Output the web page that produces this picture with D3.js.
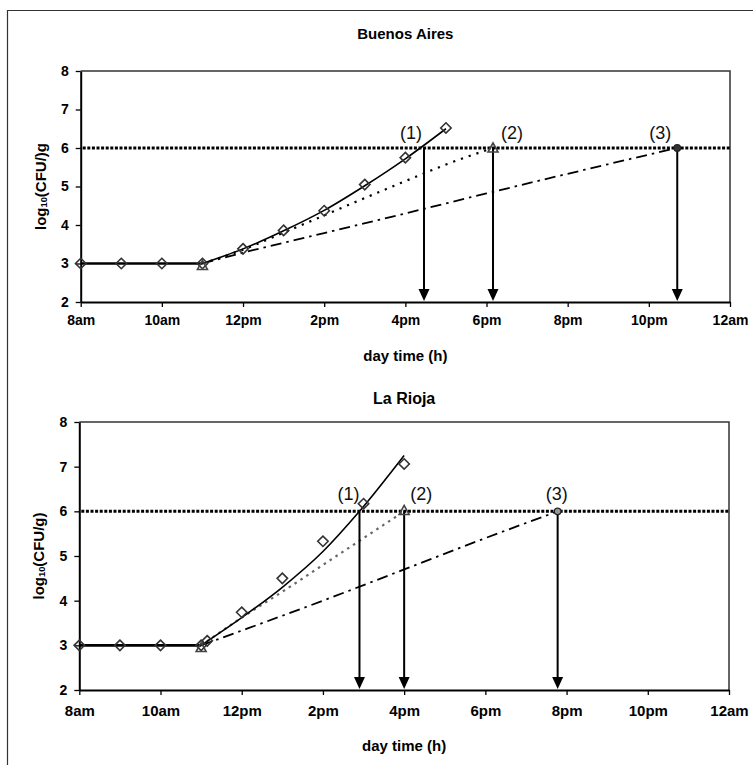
<!DOCTYPE html>
<html><head><meta charset="utf-8">
<script src="https://cdn.jsdelivr.net/npm/d3@7"></script>
<style>body{margin:0;background:#fff} svg{display:block} text{font-family:"Liberation Sans",Arial,sans-serif}</style>
</head><body><svg id="c" width="753" height="765"></svg>
<script>
// ---- shared axis data ----
const xTickHours = [8,10,12,14,16,18,20,22,24];
const xTickLabels = ["8am","10am","12pm","2pm","4pm","6pm","8pm","10pm","12am"];
const yTicks = [2,3,4,5,6,7,8];
const threshold = 6;
const xDomain = [8,24];
const yDomain = [2,8];

// ---- Buenos Aires ----
const baTitle = "Buenos Aires";
const baYLabel = ["log","10","(CFU/)g"];
const baObsHours = [8,9,10,11,12,13,14,15,16,17];
const baObsValues = [3,3,3,3,3.38,3.86,4.37,5.05,5.75,6.52];
const baLagHours = [8,11];
const baLagValues = [3,3];
const baFit1Hours = [11,12,13,14,15,16,17];
const baFit1Values = [3.0,3.38,3.85,4.38,5.02,5.72,6.5];
const baFit2Hours = [11,12,13,14,15,16,17,18.16];
const baFit2Values = [3.0,3.36,3.8,4.25,4.7,5.14,5.57,6.0];
const baFit3Hours = [11,12,14,16,18,20,22.7];
const baFit3Values = [3.0,3.28,3.79,4.3,4.82,5.33,6.0];
const baTriHours = [11,18.16];
const baTriValues = [2.95,6.0];
const baCircHours = [22.7];
const baCircValues = [6.0];
const baArrowHours = [16.46,18.16,22.7];
const arrowLabels = ["(1)","(2)","(3)"];

// ---- La Rioja ----
const lrTitle = "La Rioja";
const lrYLabel = ["log","10","(CFU/g)"];
const lrObsHours = [8,9,10,11,11.15,12,13,14,15,16];
const lrObsValues = [3,3,3,3,3.1,3.74,4.5,5.33,6.17,7.06];
const lrLagHours = [8,11];
const lrLagValues = [3,3];
const lrFit1Hours = [11,12,13,14,14.9,16];
const lrFit1Values = [3.0,3.62,4.3,5.1,6.0,7.25];
const lrFit2Hours = [11,12,13,14,15,16];
const lrFit2Values = [3.0,3.62,4.2,4.8,5.4,6.0];
const lrFit3Hours = [11,12,14,16,18,19.78];
const lrFit3Values = [3.0,3.33,4.0,4.7,5.4,6.0];
const lrTriHours = [11,16];
const lrTriValues = [2.95,6.02];
const lrCircHours = [19.78];
const lrCircValues = [6.0];
const lrArrowHours = [14.9,16.0,19.78];

const svg = d3.select("#c");
// outer frame (left + top)
svg.append("path").attr("d","M7.5,765 L7.5,10.5 L753,10.5").attr("fill","none").attr("stroke","#333").attr("stroke-width",1.2);

const zip = (a,b) => a.map((v,i)=>[v,b[i]]);

function panel(cfg, d) {
  const x = d3.scaleLinear().domain(xDomain).range([cfg.x0, cfg.x1]);
  const y = d3.scaleLinear().domain(yDomain).range([cfg.yB, cfg.yT]);
  const g = svg.append("g");
  // title
  g.append("text").attr("x",(cfg.x0+cfg.x1)/2).attr("y",cfg.titleY).attr("text-anchor","middle")
    .attr("font-size",cfg.titleSize).attr("font-weight","bold").text(d.title);
  // box top/right
  g.append("path").attr("d",`M${cfg.x0},${cfg.yT} L${cfg.x1},${cfg.yT} L${cfg.x1},${cfg.yB}`)
    .attr("fill","none").attr("stroke","#333").attr("stroke-width",1.5);
  // axes
  const xa = g.append("g").attr("transform",`translate(0,${cfg.yB})`)
    .call(d3.axisBottom(x).tickValues(xTickHours).tickFormat((v,i)=>xTickLabels[i]).tickSize(5).tickSizeOuter(0));
  const ya = g.append("g").attr("transform",`translate(${cfg.x0},0)`)
    .call(d3.axisLeft(y).tickValues(yTicks).tickFormat(d3.format("d")).tickSize(5).tickSizeOuter(0));
  [xa,ya].forEach(a=>{
    a.select(".domain").attr("stroke","#000").attr("stroke-width",2);
    a.selectAll(".tick line").attr("stroke","#000").attr("stroke-width",1.3);
    a.selectAll(".tick text").attr("font-family",'"Liberation Sans",Arial,sans-serif')
      .attr("font-weight","bold").attr("fill","#000");
  });
  xa.selectAll(".tick text").attr("font-size",cfg.xTickSize).attr("dy","0.71em").attr("y",cfg.xTickY);
  ya.selectAll(".tick text").attr("font-size",cfg.yTickSize).attr("x",-12);
  // axis titles
  g.append("text").attr("x",(cfg.x0+cfg.x1)/2).attr("y",cfg.xTitleY).attr("text-anchor","middle")
    .attr("font-size",cfg.axisTitleSize).attr("font-weight","bold").text("day time (h)");
  const yl = g.append("text").attr("transform",`translate(${cfg.yTitleX},${(cfg.yT+cfg.yB)/2}) rotate(-90)`)
    .attr("text-anchor","middle").attr("font-size",cfg.axisTitleSize).attr("font-weight","bold");
  yl.append("tspan").text(d.yLabel[0]);
  yl.append("tspan").attr("font-size",cfg.axisTitleSize*0.62).attr("dy",1).text(d.yLabel[1]);
  yl.append("tspan").attr("dy",-1).text(d.yLabel[2]);

  // threshold
  g.append("line").attr("x1",cfg.x0+2).attr("x2",cfg.x1).attr("y1",y(threshold)).attr("y2",y(threshold))
    .attr("stroke","#000").attr("stroke-width",3).attr("stroke-dasharray","3,1.6");

  const lineS = d3.line().x(p=>x(p[0])).y(p=>y(p[1]));
  const lineC = d3.line().x(p=>x(p[0])).y(p=>y(p[1])).curve(d3.curveMonotoneX);
  // fit 3 dash-dot
  g.append("path").attr("d",lineC(zip(d.f3h,d.f3v))).attr("fill","none").attr("stroke","#000")
    .attr("stroke-width",1.8).attr("stroke-dasharray","11,5,2.5,5");
  // fit 2 dotted
  g.append("path").attr("d",lineC(zip(d.f2h,d.f2v))).attr("fill","none").attr("stroke",cfg.dotColor)
    .attr("stroke-width",2.2).attr("stroke-dasharray",cfg.dotDash);
  // lag
  g.append("path").attr("d",lineS(zip(d.lagh,d.lagv))).attr("fill","none").attr("stroke","#000").attr("stroke-width",2.6);
  // fit 1 solid
  g.append("path").attr("d",lineC(zip(d.f1h,d.f1v))).attr("fill","none").attr("stroke","#000").attr("stroke-width",1.6);

  // arrows
  d.arrows.forEach((h,i)=>{
    const ax = x(h);
    g.append("line").attr("x1",ax).attr("x2",ax).attr("y1",y(threshold)).attr("y2",cfg.yB-10)
      .attr("stroke","#000").attr("stroke-width",2);
    g.append("path").attr("d",`M${ax-5.5},${cfg.yB-13} L${ax+5.5},${cfg.yB-13} L${ax},${cfg.yB-1} Z`).attr("fill","#000");
    g.append("text").attr("x",ax+cfg.labelDx[i]).attr("y",y(threshold)+cfg.labelDy).attr("text-anchor","middle")
      .attr("font-size",18).attr("fill","#111").text(arrowLabels[i]);
  });

  // markers: diamonds
  g.selectAll(null).data(zip(d.oh,d.ov)).join("path")
    .attr("d",p=>{const cx=x(p[0]),cy=y(p[1]),r=5.2;return `M${cx},${cy-r} L${cx+r},${cy} L${cx},${cy+r} L${cx-r},${cy} Z`;})
    .attr("fill","none").attr("stroke","#333").attr("stroke-width",1.6);
  // triangles
  g.selectAll(null).data(zip(d.th,d.tv)).join("path")
    .attr("d",p=>{const cx=x(p[0]),cy=y(p[1]);return `M${cx},${cy-5} L${cx+5},${cy+4} L${cx-5},${cy+4} Z`;})
    .attr("fill","none").attr("stroke","#444").attr("stroke-width",1.6);
  // circles
  g.selectAll(null).data(zip(d.ch,d.cv)).join("circle")
    .attr("cx",p=>x(p[0])).attr("cy",p=>y(p[1])).attr("r",3.3)
    .attr("fill",cfg.circFill).attr("stroke","#222").attr("stroke-width",1.2);
}

panel({x0:80.7,x1:730,yT:71,yB:302,titleY:39,titleSize:15,xTickSize:14,yTickSize:14,axisTitleSize:15,xTickY:13,xTitleY:361,yTitleX:46,
       dotColor:"#000",dotDash:"2.2,6",labelDx:[-13,19,-17],labelDy:-9,circFill:"#333"},
  {title:baTitle,yLabel:baYLabel,oh:baObsHours,ov:baObsValues,lagh:baLagHours,lagv:baLagValues,
   f1h:baFit1Hours,f1v:baFit1Values,f2h:baFit2Hours,f2v:baFit2Values,f3h:baFit3Hours,f3v:baFit3Values,
   th:baTriHours,tv:baTriValues,ch:baCircHours,cv:baCircValues,arrows:baArrowHours});

panel({x0:79.3,x1:729,yT:422,yB:690,titleY:404,titleSize:16,xTickSize:15,yTickSize:14,axisTitleSize:15,xTickY:15,xTitleY:751,yTitleX:44,
       dotColor:"#666",dotDash:"2.5,4.5",labelDx:[-11,17,-1],labelDy:-11,circFill:"#999"},
  {title:lrTitle,yLabel:lrYLabel,oh:lrObsHours,ov:lrObsValues,lagh:lrLagHours,lagv:lrLagValues,
   f1h:lrFit1Hours,f1v:lrFit1Values,f2h:lrFit2Hours,f2v:lrFit2Values,f3h:lrFit3Hours,f3v:lrFit3Values,
   th:lrTriHours,tv:lrTriValues,ch:lrCircHours,cv:lrCircValues,arrows:lrArrowHours});
</script></body></html>
